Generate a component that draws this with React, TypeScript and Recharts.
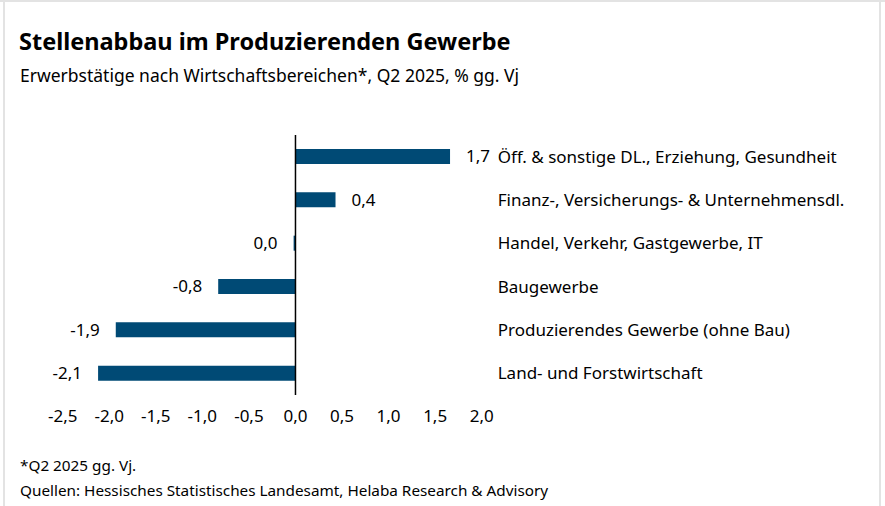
import { BarChart, Bar, XAxis, YAxis, ReferenceLine, LabelList } from "recharts";

const categories = [
  "Öff. & sonstige DL., Erziehung, Gesundheit",
  "Finanz-, Versicherungs- & Unternehmensdl.",
  "Handel, Verkehr, Gastgewerbe, IT",
  "Baugewerbe",
  "Produzierendes Gewerbe (ohne Bau)",
  "Land- und Forstwirtschaft",
];
const values = [1.66, 0.43, -0.02, -0.83, -1.93, -2.12];
const xTicks = [-2.5, -2, -1.5, -1, -0.5, 0, 0.5, 1, 1.5, 2];

const data = categories.map((name, i) => ({ name, value: values[i] }));

const FONT = "'Noto Sans', sans-serif";
const BAR = "#004a75";
const FS = 17;

const fmt = (v: number) => (Math.abs(v) < 0.05 ? 0 : v).toFixed(1).replace(".", ",");

const ValueLabel = (props: any) => {
  const x = Number(props.x), y = Number(props.y);
  const w = Number(props.width), h = Number(props.height);
  const v = Number(props.value);
  const left = Math.min(x, x + w);
  const right = Math.max(x, x + w);
  const pos = v > 0;
  return (
    <text
      x={pos ? right + 16 : left - 16}
      y={y + h / 2}
      dy="0.35em"
      textAnchor={pos ? "start" : "end"}
      fontSize={FS}
      fontFamily={FONT}
      fill="#000"
    >
      {fmt(v)}
    </text>
  );
};

const CatTick = (props: any) => {
  const { x, y, payload } = props;
  return (
    <text x={x} y={y} dy="0.35em" textAnchor="start" fontSize={FS} fontFamily={FONT} fill="#000">
      {payload.value}
    </text>
  );
};

export default function App() {
  return (
    <div style={{ position: "absolute", left: 0, top: 0, width: 885, height: 506, background: "#fff", fontFamily: FONT, color: "#000" }}>
      {/* frame */}
      <div style={{ position: "absolute", left: 0, top: 0, width: 885, height: 2, background: "#e3e3e3" }} />
      <div style={{ position: "absolute", left: 3, top: 0, width: 2, height: 506, background: "#e3e3e3" }} />
      <div style={{ position: "absolute", left: 879, top: 0, width: 2, height: 506, background: "#e3e3e3" }} />

      <div style={{ position: "absolute", left: 19, top: 30, fontSize: 23.5, lineHeight: "23.5px", fontWeight: 700, whiteSpace: "nowrap" }}>
        Stellenabbau im Produzierenden Gewerbe
      </div>
      <div style={{ position: "absolute", left: 20, top: 66.5, fontSize: 17.5, lineHeight: "17.5px", whiteSpace: "nowrap" }}>
        Erwerbstätige nach Wirtschaftsbereichen*, Q2 2025, % gg. Vj
      </div>

      <div style={{ position: "absolute", left: 0, top: 0 }}>
        <BarChart
          width={885}
          height={506}
          data={data}
          layout="vertical"
          margin={{ top: 135, right: 0, bottom: 81, left: 62.7 }}
        >
          <XAxis
            type="number"
            domain={[-2.5, 2]}
            ticks={xTicks}
            interval={0}
            axisLine={false}
            tickLine={false}
            tickSize={0}
            tickMargin={14.5}
            height={30}
            tickFormatter={(v: number) => v.toFixed(1).replace(".", ",")}
            tick={{ fontSize: FS, fill: "#000", fontFamily: FONT }}
          />
          <YAxis
            type="category"
            dataKey="name"
            orientation="right"
            width={403.3}
            axisLine={false}
            tickLine={false}
            tickSize={0}
            tickMargin={16}
            interval={0}
            tick={<CatTick />}
          />
          <Bar dataKey="value" fill={BAR} barSize={15} isAnimationActive={false}>
            <LabelList dataKey="value" content={<ValueLabel />} />
          </Bar>
          <ReferenceLine x={0} stroke="#000" strokeWidth={1.5} />
        </BarChart>
      </div>

      <div style={{ position: "absolute", left: 20, top: 458, fontSize: 15.3, lineHeight: "15.3px", whiteSpace: "nowrap" }}>
        *Q2 2025 gg. Vj.
      </div>
      <div style={{ position: "absolute", left: 20, top: 482.5, fontSize: 15.3, lineHeight: "15.3px", whiteSpace: "nowrap" }}>
        Quellen: Hessisches Statistisches Landesamt, Helaba Research &amp; Advisory
      </div>
    </div>
  );
}
